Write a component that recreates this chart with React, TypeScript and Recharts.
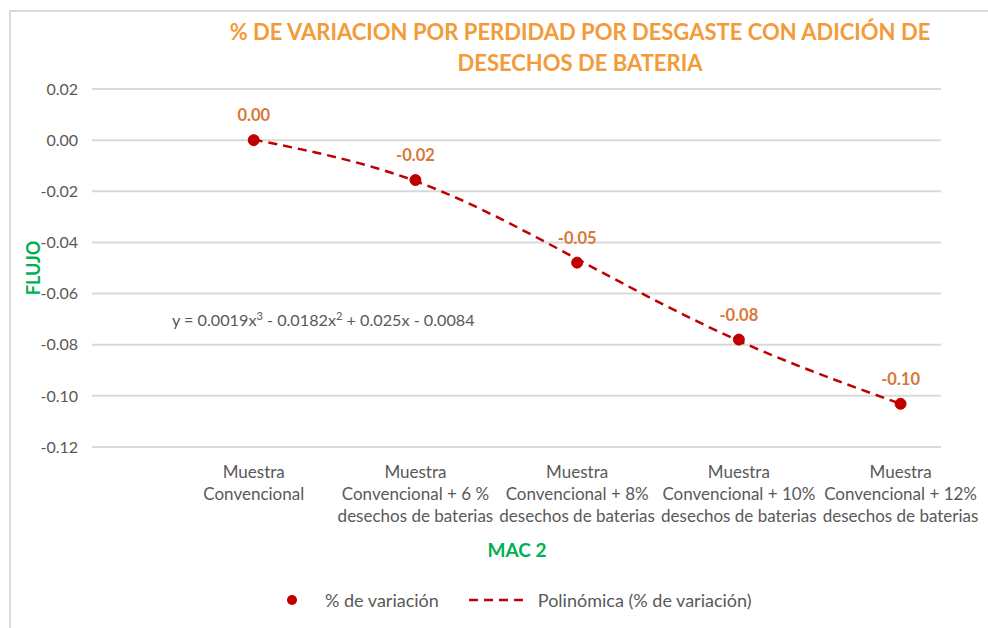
import React from "react";
import { LineChart, Line, XAxis, YAxis, CartesianGrid, LabelList } from "recharts";

// categories sit at x = 1..5 on a numeric axis (Excel leaves a gap on the left)
const categoryX = [1, 2, 3, 4, 5];
const categoryLines = [
  ["Muestra", "Convencional"],
  ["Muestra", "Convencional + 6 %", "desechos de baterias"],
  ["Muestra", "Convencional + 8%", "desechos de baterias"],
  ["Muestra", "Convencional + 10%", "desechos de baterias"],
  ["Muestra", "Convencional + 12%", "desechos de baterias"],
];
const variation = [0, -0.0156, -0.0479, -0.078, -0.1031];
const trend = [0.0002, -0.016, -0.0465, -0.0785, -0.1031];
const yTicks = [-0.12, -0.1, -0.08, -0.06, -0.04, -0.02, 0, 0.02];

const data = categoryX.map((x, i) => ({ x, variation: variation[i], trend: trend[i] }));

const FONT = "Lato, 'Noto Sans', sans-serif";
const tickGray = "#595959";
const red = "#c00000";
const labelOrange = "#d9773a";
const green = "#00b050";

const CategoryTick = (props: any) => {
  const { x, y, payload } = props;
  const lines = categoryLines[categoryX.indexOf(payload.value)] || [];
  return (
    <text x={x} y={y} textAnchor="middle" fill={tickGray} fontSize={17} fontFamily={FONT}>
      {lines.map((l, i) => (
        <tspan key={i} x={x} y={y + 29 + i * 22}>
          {l}
        </tspan>
      ))}
    </text>
  );
};

const PointLabel = (props: any) => {
  const { x, y, value } = props;
  return (
    <text
      x={x}
      y={y - 25}
      textAnchor="middle"
      dominantBaseline="central"
      fill={labelOrange}
      fontSize={16.5}
      fontWeight={700}
      fontFamily={FONT}
    >
      {Number(value).toFixed(2)}
    </text>
  );
};

export default function App() {
  return (
    <div style={{ position: "absolute", left: 0, top: 0, width: 988, height: 628, background: "#fff" }}>
      <div
        style={{
          position: "absolute",
          left: 9,
          top: 10,
          right: 0,
          bottom: 0,
          borderLeft: "2px solid #d9d9d9",
          borderTop: "2px solid #d9d9d9",
        }}
      />
      <div
        style={{
          position: "absolute",
          left: 180,
          width: 800,
          top: 16,
          textAlign: "center",
          color: "#f29b38",
          fontFamily: FONT,
          fontWeight: 700,
          fontSize: 22,
          lineHeight: "31px",
        }}
      >
        % DE VARIACION POR PERDIDAD POR DESGASTE CON ADICIÓN DE
        <br />
        DESECHOS DE BATERIA
      </div>
      <LineChart width={988} height={628} data={data} margin={{ top: 89, right: 47, left: 0, bottom: 101 }}>
        <CartesianGrid stroke="#d9d9d9" strokeWidth={2} vertical={false} />
        <XAxis
          dataKey="x"
          type="number"
          domain={[0, 5.25]}
          ticks={categoryX}
          interval={0}
          tick={<CategoryTick />}
          tickLine={false}
          axisLine={false}
          tickSize={0}
          height={80}
        />
        <YAxis
          type="number"
          domain={[-0.12, 0.02]}
          ticks={yTicks}
          tickFormatter={(v: number) => v.toFixed(2)}
          tick={{ fill: tickGray, fontSize: 16, fontFamily: FONT }}
          tickLine={false}
          axisLine={false}
          tickSize={0}
          tickMargin={14}
          width={92}
        />
        <Line
          dataKey="trend"
          type="natural"
          stroke={red}
          strokeWidth={2.5}
          strokeDasharray="9 6"
          dot={false}
          activeDot={false}
          isAnimationActive={false}
        />
        <Line
          dataKey="variation"
          stroke="none"
          dot={{ r: 5.5, fill: red, stroke: red, strokeWidth: 1 }}
          activeDot={false}
          isAnimationActive={false}
        >
          <LabelList dataKey="variation" content={<PointLabel />} />
        </Line>
      </LineChart>
      <div
        style={{
          position: "absolute",
          left: 172,
          top: 309,
          color: tickGray,
          fontFamily: FONT,
          fontSize: 16.2,
          whiteSpace: "nowrap",
        }}
      >
        y = 0.0019x<sup style={{ fontSize: 11 }}>3</sup> - 0.0182x<sup style={{ fontSize: 11 }}>2</sup> + 0.025x - 0.0084
      </div>
      <div
        style={{
          position: "absolute",
          left: 33,
          top: 268,
          transform: "translate(-50%, -50%) rotate(-90deg)",
          color: green,
          fontFamily: FONT,
          fontWeight: 700,
          fontSize: 18,
        }}
      >
        FLUJO
      </div>
      <div
        style={{
          position: "absolute",
          left: 517,
          top: 549,
          transform: "translate(-50%, -50%)",
          color: green,
          fontFamily: FONT,
          fontWeight: 700,
          fontSize: 19,
        }}
      >
        MAC 2
      </div>
      {/* legend */}
      <div
        style={{
          position: "absolute",
          top: 589,
          left: 285,
          display: "flex",
          alignItems: "center",
          fontFamily: FONT,
          fontSize: 18,
          color: tickGray,
          whiteSpace: "nowrap",
        }}
      >
        <svg width={14} height={14} style={{ marginRight: 26 }}>
          <circle cx={7} cy={7} r={5} fill={red} />
        </svg>
        <span style={{ marginRight: 30 }}>% de variación</span>
        <svg width={54} height={10} style={{ marginRight: 15 }}>
          <line x1={0} y1={5} x2={54} y2={5} stroke={red} strokeWidth={2.5} strokeDasharray="9 6" />
        </svg>
        <span>Polinómica (% de variación)</span>
      </div>
    </div>
  );
}
